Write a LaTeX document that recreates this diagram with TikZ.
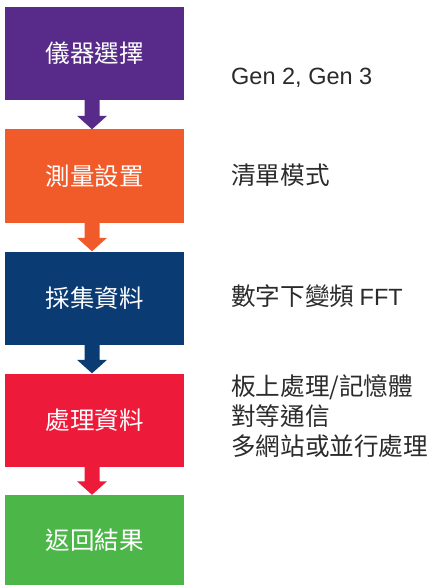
\documentclass[tikz,border=0pt]{standalone}
\usepackage{fontspec}
\setmainfont{Liberation Sans}
\newfontfamily\cjk{Noto Sans CJK TC}
\usetikzlibrary{calc}
\definecolor{cpurp}{HTML}{582A8A}
\definecolor{corange}{HTML}{F15A29}
\definecolor{cnavy}{HTML}{0B3B73}
\definecolor{cred}{HTML}{ED1A3A}
\definecolor{cgreen}{HTML}{4CB748}
\definecolor{ctext}{HTML}{2B2B2B}
\tikzset{
  stepbox/.style={fill=#1, minimum width=179pt, minimum height=93pt, inner sep=0pt,
    text=white, font=\cjk\fontsize{24.5}{28}\selectfont},
  note/.style={anchor=west, inner sep=0pt, text=ctext, align=left,
    font=\fontsize{23.5}{30}\selectfont},
  cjknote/.style={note, font=\cjk\fontsize{24.6}{30}\selectfont},
}
\newcommand{\flowarrow}[3]{%
  \fill[#3] let \p1=([xshift=-2.5pt]#1.south), \p2=([xshift=-2.5pt]#2.north) in
    (\x1-7.5pt,\y1) -- (\x1+7.5pt,\y1) -- (\x1+7.5pt,\y2+13.5pt) -- (\x1+15pt,\y2+13.5pt)
    -- (\x1,\y2) -- (\x1-15pt,\y2+13.5pt) -- (\x1-7.5pt,\y2+13.5pt) -- cycle;}
\begin{document}
\begin{tikzpicture}[x=1pt,y=1pt]
\useasboundingbox (0,0) rectangle (433,-585);
\node[stepbox=cpurp] (b1) at (94.5,-53.5) {儀器選擇};
\node[stepbox=corange] (b2) at (94.5,-176) {測量設置};
\node[stepbox=cnavy] (b3) at (94.5,-298) {採集資料};
\node[stepbox=cred] (b4) at (94.5,-420) {處理資料};
\node[stepbox=cgreen, minimum height=90pt] (b5) at (94.5,-540) {返回結果};
\flowarrow{b1}{b2}{cpurp}
\flowarrow{b2}{b3}{corange}
\flowarrow{b3}{b4}{cnavy}
\flowarrow{b4}{b5}{cred}
\node[note] (n1) at (231,-78) {Gen 2, Gen 3};
\node[cjknote] (n2) at (231,-175) {清單模式};
\node[cjknote] (n3) at (231,-296) {數字下變頻 {\rmfamily\fontsize{23.5}{30}\selectfont FFT}};
\node[cjknote] (n4) at (231,-416) {板上處理/記憶體\\對等通信\\多網站或並行處理};
\end{tikzpicture}
\end{document}
